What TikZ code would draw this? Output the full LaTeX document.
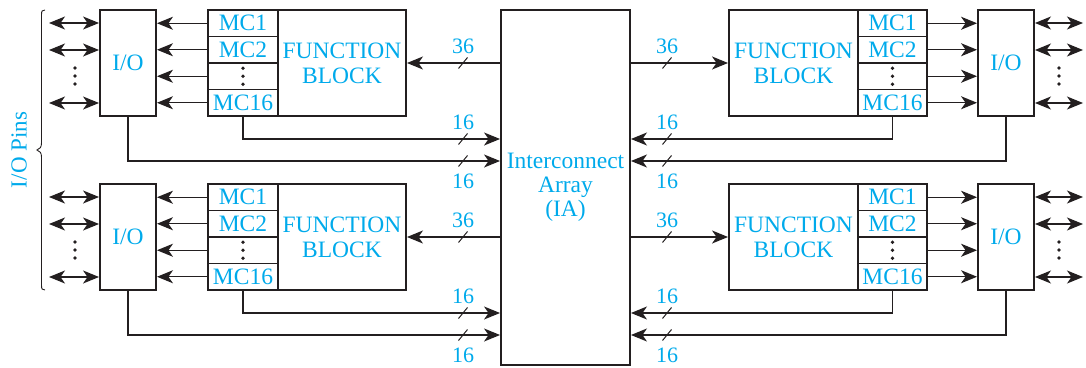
\documentclass[tikz,border=0pt]{standalone}
\usepackage{fontspec}
\setmainfont{Liberation Serif}
\usetikzlibrary{arrows.meta,calc}
\definecolor{txt}{RGB}{0,170,235}
\definecolor{ln}{RGB}{35,31,32}
\begin{document}
\begin{tikzpicture}[x=1pt,y=-1pt,
  box/.style={draw=ln,line width=1.9pt,inner sep=0pt,text=txt,font=\fontsize{23.5}{25}\selectfont,align=center},
  conn/.style={draw=ln,line width=1.3pt},
  arr/.style={conn,-{Stealth[length=16pt,width=13pt,inset=4.5pt]}},
  darr/.style={conn,{Stealth[length=16pt,width=13pt,inset=4.5pt]}-{Stealth[length=16pt,width=13pt,inset=4.5pt]}},
  lbl/.style={text=txt,font=\fontsize{22}{24}\selectfont,inner sep=0pt},
  vdots/.style={fill=ln,circle,minimum size=3.6pt,inner sep=0pt},
  slash/.style={draw=ln,line width=1pt}]
\useasboundingbox (0,0) rectangle (1086,367);

% Interconnect array
\node[box,minimum width=129pt,minimum height=355pt,font=\fontsize{23.5}{24}\selectfont] (IA) at (565.5,187.5) {Interconnect\\Array\\(IA)};

\coordinate (y139) at (0,139);
\coordinate (y161) at (0,161);
\coordinate (y313) at (0,313);
\coordinate (y335) at (0,335);

% ---------- left panels ----------
\foreach \p/\dy in {a/0,b/174}{
  \node[box,minimum width=56pt,minimum height=106pt] (IO\p) at (128,63+\dy) {I/O};
  \node[box,minimum width=128pt,minimum height=106pt] (FB\p) at (342,63+\dy) {FUNCTION\\BLOCK};
  \node[box,minimum width=70pt,minimum height=26.5pt] (MCA\p) at (243,23.25+\dy) {MC1};
  \node[box,minimum width=70pt,minimum height=26.5pt] (MCB\p) at (243,49.75+\dy) {MC2};
  \node[box,minimum width=70pt,minimum height=26.5pt] (MCC\p) at (243,76.25+\dy) {};
  \node[box,minimum width=70pt,minimum height=26.5pt] (MCD\p) at (243,102.75+\dy) {MC16};
  \foreach \yy in {-8,0,8}{\node[vdots] at ($(MCC\p.center)+(0,\yy)$) {};}
  \foreach \m in {A,B,C,D}{
    \draw[arr] (MC\m\p.west) -- (MC\m\p.west -| IO\p.east);
  }
  \coordinate (PA\p) at (49,23+\dy);
  \coordinate (PB\p) at (49,50+\dy);
  \coordinate (PD\p) at (49,103+\dy);
  \draw[darr] (PA\p) -- (PA\p -| IO\p.west);
  \draw[darr] (PB\p) -- (PB\p -| IO\p.west);
  \draw[darr] (PD\p) -- (PD\p -| IO\p.west);
  \foreach \yy in {-8,0,8}{\node[vdots] at (75,76+\dy+\yy) {};}
  \draw[arr] (FB\p.east -| IA.west) -- (FB\p.east);
  \draw[slash] (458.5,68.5+\dy) -- ++(9,-11);
  \node[lbl] at (463,46+\dy) {36};
}

% ---------- right panels ----------
\foreach \p/\dy in {c/0,d/174}{
  \node[box,minimum width=56pt,minimum height=106pt] (IO\p) at (1006,63+\dy) {I/O};
  \node[box,minimum width=129pt,minimum height=106pt] (FB\p) at (793.5,63+\dy) {FUNCTION\\BLOCK};
  \node[box,minimum width=69pt,minimum height=26.5pt] (MCA\p) at (892.5,23.25+\dy) {MC1};
  \node[box,minimum width=69pt,minimum height=26.5pt] (MCB\p) at (892.5,49.75+\dy) {MC2};
  \node[box,minimum width=69pt,minimum height=26.5pt] (MCC\p) at (892.5,76.25+\dy) {};
  \node[box,minimum width=69pt,minimum height=26.5pt] (MCD\p) at (892.5,102.75+\dy) {MC16};
  \foreach \yy in {-8,0,8}{\node[vdots] at ($(MCC\p.center)+(0,\yy)$) {};}
  \foreach \m in {A,B,C,D}{
    \draw[arr] (MC\m\p.east) -- (MC\m\p.east -| IO\p.west);
  }
  \coordinate (PA\p) at (1083,23+\dy);
  \coordinate (PB\p) at (1083,50+\dy);
  \coordinate (PD\p) at (1083,103+\dy);
  \draw[darr] (PA\p -| IO\p.east) -- (PA\p);
  \draw[darr] (PB\p -| IO\p.east) -- (PB\p);
  \draw[darr] (PD\p -| IO\p.east) -- (PD\p);
  \foreach \yy in {-8,0,8}{\node[vdots] at (1059,76+\dy+\yy) {};}
  \draw[arr] (FB\p.west -| IA.east) -- (FB\p.west);
  \draw[slash] (662.5,68.5+\dy) -- ++(9,-11);
  \node[lbl] at (667,46+\dy) {36};
}

% ---------- 16-bit feedback lines ----------
\draw[arr] (MCDa.south) |- (IA.west |- y139);
\draw[arr] (IOa.south) |- (IA.west |- y161);
\draw[arr] (MCDb.south) |- (IA.west |- y313);
\draw[arr] (IOb.south) |- (IA.west |- y335);
\draw[arr] (MCDc.south) |- (IA.east |- y139);
\draw[arr] (IOc.south) |- (IA.east |- y161);
\draw[arr] (MCDd.south) |- (IA.east |- y313);
\draw[arr] (IOd.south) |- (IA.east |- y335);

\foreach \x in {463,667}{
  \foreach \dy in {0,174}{
    \draw[slash] (\x-4.5,144.5+\dy) -- ++(9,-11);
    \draw[slash] (\x-4.5,166.5+\dy) -- ++(9,-11);
    \node[lbl] at (\x,122+\dy) {16};
    \node[lbl] at (\x,181+\dy) {16};
  }
}

% ---------- brace and label ----------
\draw[ln,line width=0.9pt] (45,10) .. controls (42,10) and (41.5,11) .. (41.5,15) -- (41.5,143)
  .. controls (41.5,147) and (40,149) .. (37,150) .. controls (40,151) and (41.5,153) .. (41.5,157)
  -- (41.5,285) .. controls (41.5,289) and (42,290) .. (45,290);
\node[lbl,rotate=90,font=\fontsize{23}{24}\selectfont] (pins) at (19,150) {I/O Pins};
\end{tikzpicture}
\end{document}
